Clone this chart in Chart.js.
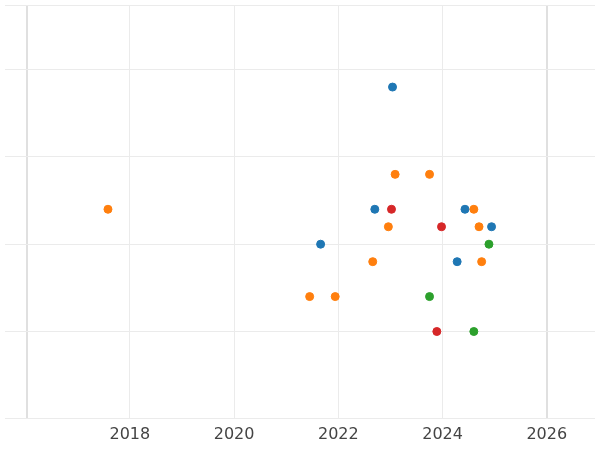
<!DOCTYPE html>
<html><head><script src="https://cdn.jsdelivr.net/npm/chart.js"></script>
<style>html,body{margin:0;padding:0;background:#fff}</style></head>
<body><div style="width:600px;height:450px"><canvas id="c"></canvas></div>
<script>
const blueX=[2023.04,2022.70,2024.43,2024.94,2021.66,2024.28];
const blueY=[3.8,2.4,2.4,2.2,2.0,1.8];
const orangeX=[2017.58,2023.09,2023.75,2024.60,2022.96,2024.70,2022.66,2024.75,2021.45,2021.94];
const orangeY=[2.4,2.8,2.8,2.4,2.2,2.2,1.8,1.8,1.4,1.4];
const redX=[2023.02,2023.98,2023.89];
const redY=[2.4,2.2,1.0];
const greenX=[2024.89,2023.75,2024.60];
const greenY=[2.0,1.4,1.0];
const xTicks=[2016.02,2018,2020,2022,2024,2026];
const pts=(xs,ys)=>xs.map((x,i)=>({x:x,y:ys[i]}));
const ds=(xs,ys,c)=>({data:pts(xs,ys),backgroundColor:c,borderColor:c,pointRadius:4,pointHoverRadius:4,clip:false});
new Chart(document.getElementById('c'),{type:'scatter',
data:{datasets:[ds(blueX,blueY,'#1f77b4'),ds(orangeX,orangeY,'#ff7f0e'),ds(redX,redY,'#d62728'),ds(greenX,greenY,'#2ca02c')]},
options:{responsive:true,maintainAspectRatio:false,animation:false,layout:{padding:0},
plugins:{legend:{display:false},tooltip:{enabled:false}},
scales:{
x:{min:2015.604,max:2026.925,afterBuildTicks:a=>{a.ticks=xTicks.map(v=>({value:v}));},
 ticks:{font:{family:'DejaVu Sans',size:16},color:'#444',padding:6,callback:v=>(v===2016.02?'':String(v))},
 grid:{color:c=>(c.tick&&(c.tick.value===2016.02||c.tick.value===2026)?'#e0e0e0':'#ebebeb'),lineWidth:c=>(c.tick&&(c.tick.value===2016.02||c.tick.value===2026)?2:1),drawTicks:false},border:{display:false}},
y:{min:0,max:4.74,afterFit:s=>{s.width=0;},ticks:{display:false,stepSize:1},grid:{color:'#ebebeb',drawTicks:false},border:{display:false}}
}}});
</script></body></html>
